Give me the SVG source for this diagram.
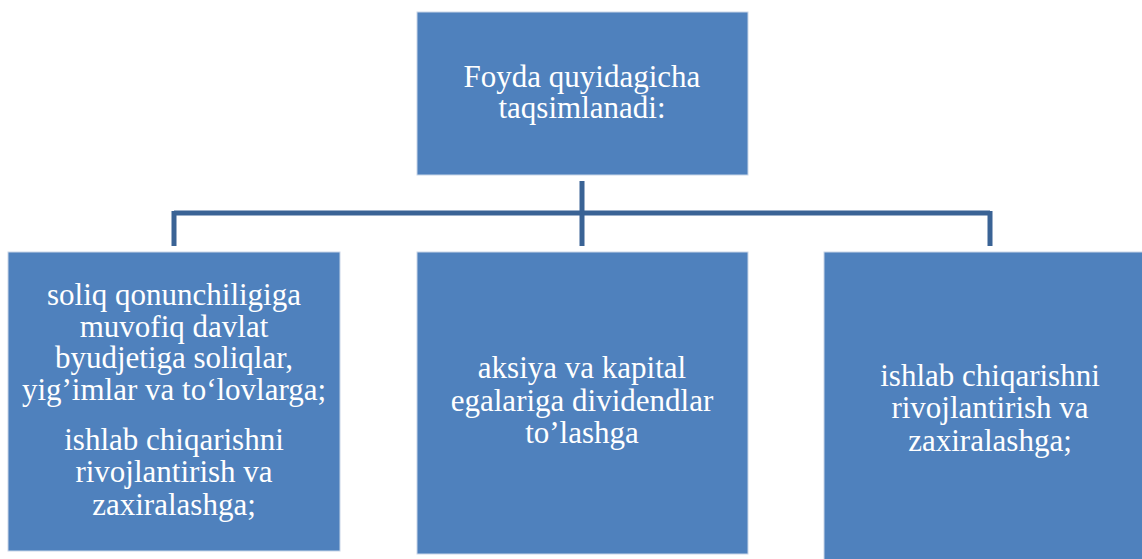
<svg xmlns="http://www.w3.org/2000/svg" width="1142" height="559" viewBox="0 0 1142 559">
<style>
.box{fill:#4F81BD;stroke:#C9D6E8;stroke-width:1}
.t{font-family:"Liberation Serif","Times New Roman",serif;font-size:31px;fill:#FFFFFF;text-anchor:middle}
.c{stroke:#3A6395;stroke-width:5;fill:none}
</style>
<rect width="1142" height="559" fill="#FFFFFF"/>
<g id="connectors">
<path class="c" d="M582 181V246M174 213H990M174 211V246M990 211V246"/>
</g>
<g id="top">
<rect class="box" x="417" y="12" width="331" height="163"/>
<text class="t" x="582" y="87">Foyda quyidagicha</text>
<text class="t" x="582" y="118">taqsimlanadi:</text>
</g>
<g id="left">
<rect class="box" x="8" y="252" width="332" height="299"/>
<text class="t" x="174" y="305">soliq qonunchiligiga</text>
<text class="t" x="174" y="337">muvofiq davlat</text>
<text class="t" x="174" y="368">byudjetiga soliqlar,</text>
<text class="t" x="174" y="400">yig’imlar va to‘lovlarga;</text>
<text class="t" x="174" y="450">ishlab chiqarishni</text>
<text class="t" x="174" y="482">rivojlantirish va</text>
<text class="t" x="174" y="515">zaxiralashga;</text>
</g>
<g id="middle">
<rect class="box" x="417" y="252" width="331" height="302"/>
<text class="t" x="582" y="378">aksiya va kapital</text>
<text class="t" x="582" y="411">egalariga dividendlar</text>
<text class="t" x="582" y="443">to’lashga</text>
</g>
<g id="right">
<rect class="box" x="824" y="252" width="331" height="310"/>
<text class="t" x="990" y="386">ishlab chiqarishni</text>
<text class="t" x="990" y="418">rivojlantirish va</text>
<text class="t" x="990" y="451">zaxiralashga;</text>
</g>
</svg>
